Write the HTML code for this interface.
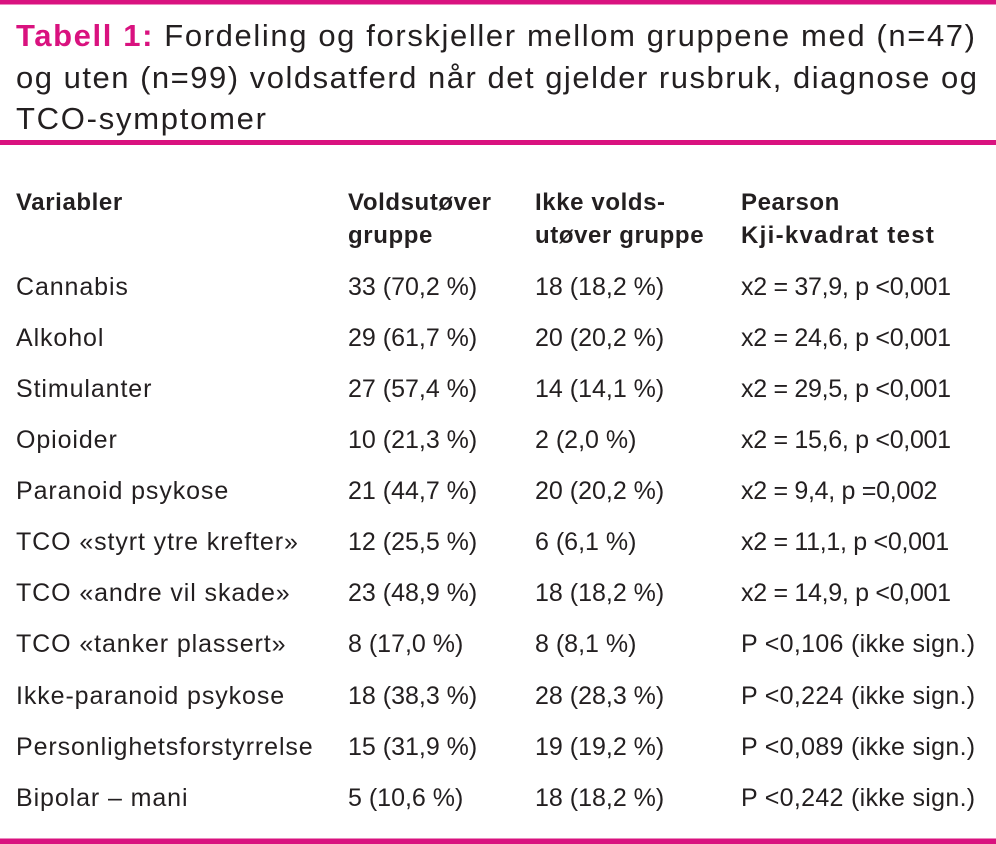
<!DOCTYPE html>
<html><head><meta charset="utf-8"><style>
html,body{margin:0;padding:0;background:#fff;width:996px;height:844px;overflow:hidden}
svg{display:block}
text{font-family:"Liberation Sans",sans-serif;fill:#231f20}
.n{letter-spacing:0}
.x{letter-spacing:-0.3px}
.p{letter-spacing:0.3px}
</style></head><body>
<svg width="996" height="844" viewBox="0 0 996 844" xmlns="http://www.w3.org/2000/svg">
<rect x="0" y="0" width="996" height="4.5" fill="#d9127f"/>
<rect x="0" y="140" width="996" height="5" fill="#d9127f"/>
<rect x="0" y="838.5" width="996" height="5.5" fill="#d9127f"/>
<g font-size="31">
<text x="16" y="46" textLength="959" lengthAdjust="spacing"><tspan font-weight="bold" style="fill:#d9127f">Tabell 1:</tspan> Fordeling og forskjeller mellom gruppene med (n=47)</text>
<text x="16" y="88" textLength="961" lengthAdjust="spacing">og uten (n=99) voldsatferd når det gjelder rusbruk, diagnose og</text>
<text x="16" y="129" textLength="250" lengthAdjust="spacing">TCO-symptomer</text>
</g>
<g font-size="24" font-weight="bold" letter-spacing="0.6">
<text x="16" y="210">Variabler</text>
<text x="348" y="210">Voldsutøver</text>
<text x="348" y="243">gruppe</text>
<text x="535" y="210">Ikke volds-</text>
<text x="535" y="243">utøver gruppe</text>
<text x="741" y="210">Pearson</text>
<text x="741" y="243" letter-spacing="1.3">Kji-kvadrat test</text>
</g>
<g font-size="25" letter-spacing="0.9">
<text x="16" y="295">Cannabis</text><text class="n" x="348" y="295">33 (70,2 %)</text><text class="n" x="535" y="295">18 (18,2 %)</text><text class="x" x="741" y="295">x2 = 37,9, p &lt;0,001</text>
<text x="16" y="346">Alkohol</text><text class="n" x="348" y="346">29 (61,7 %)</text><text class="n" x="535" y="346">20 (20,2 %)</text><text class="x" x="741" y="346">x2 = 24,6, p &lt;0,001</text>
<text x="16" y="397">Stimulanter</text><text class="n" x="348" y="397">27 (57,4 %)</text><text class="n" x="535" y="397">14 (14,1 %)</text><text class="x" x="741" y="397">x2 = 29,5, p &lt;0,001</text>
<text x="16" y="448">Opioider</text><text class="n" x="348" y="448">10 (21,3 %)</text><text class="n" x="535" y="448">2 (2,0 %)</text><text class="x" x="741" y="448">x2 = 15,6, p &lt;0,001</text>
<text x="16" y="499">Paranoid psykose</text><text class="n" x="348" y="499">21 (44,7 %)</text><text class="n" x="535" y="499">20 (20,2 %)</text><text class="x" x="741" y="499">x2 = 9,4, p =0,002</text>
<text x="16" y="550">TCO «styrt ytre krefter»</text><text class="n" x="348" y="550">12 (25,5 %)</text><text class="n" x="535" y="550">6 (6,1 %)</text><text class="x" x="741" y="550">x2 = 11,1, p &lt;0,001</text>
<text x="16" y="601">TCO «andre vil skade»</text><text class="n" x="348" y="601">23 (48,9 %)</text><text class="n" x="535" y="601">18 (18,2 %)</text><text class="x" x="741" y="601">x2 = 14,9, p &lt;0,001</text>
<text x="16" y="652">TCO «tanker plassert»</text><text class="n" x="348" y="652">8 (17,0 %)</text><text class="n" x="535" y="652">8 (8,1 %)</text><text class="p" x="741" y="652">P &lt;0,106 (ikke sign.)</text>
<text x="16" y="704">Ikke-paranoid psykose</text><text class="n" x="348" y="704">18 (38,3 %)</text><text class="n" x="535" y="704">28 (28,3 %)</text><text class="p" x="741" y="704">P &lt;0,224 (ikke sign.)</text>
<text x="16" y="755">Personlighetsforstyrrelse</text><text class="n" x="348" y="755">15 (31,9 %)</text><text class="n" x="535" y="755">19 (19,2 %)</text><text class="p" x="741" y="755">P &lt;0,089 (ikke sign.)</text>
<text x="16" y="806">Bipolar – mani</text><text class="n" x="348" y="806">5 (10,6 %)</text><text class="n" x="535" y="806">18 (18,2 %)</text><text class="p" x="741" y="806">P &lt;0,242 (ikke sign.)</text>
</g>
</svg>
</body></html>
